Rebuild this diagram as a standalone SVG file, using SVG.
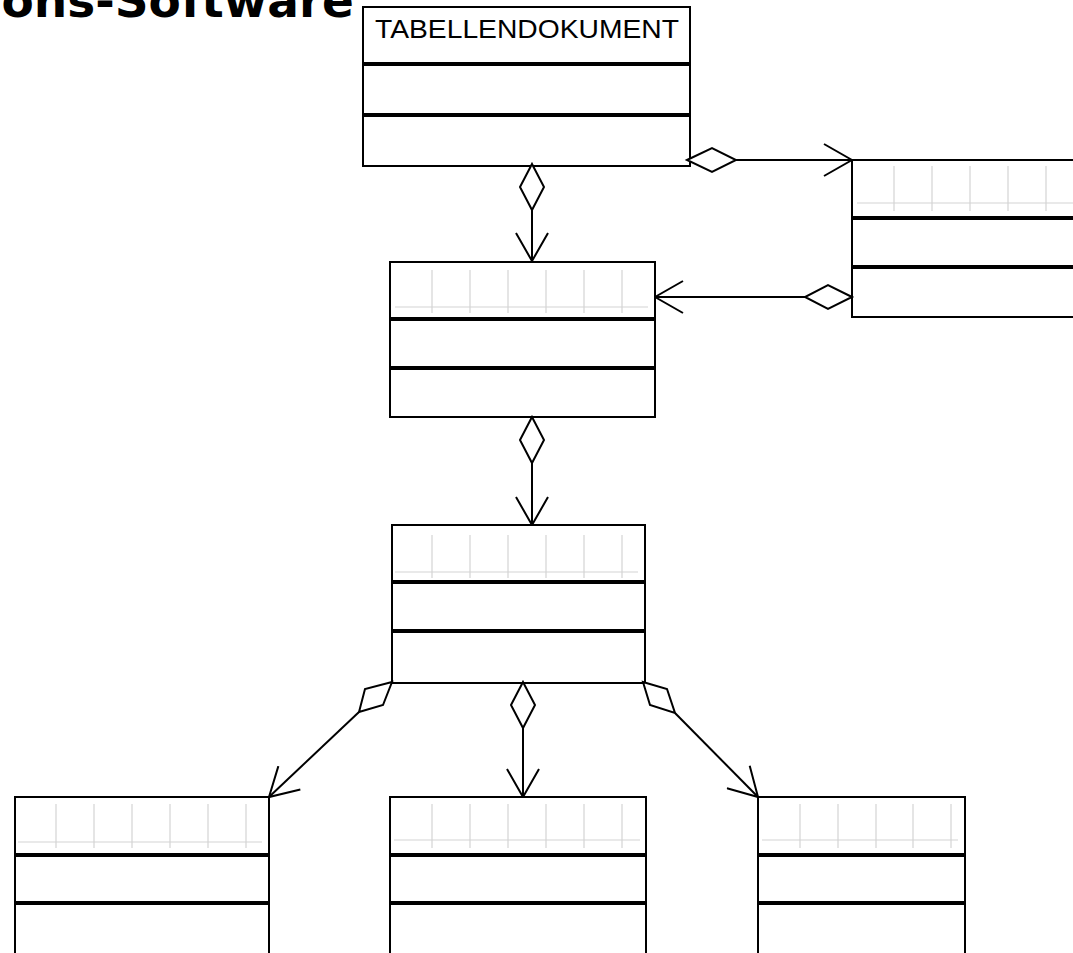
<svg xmlns="http://www.w3.org/2000/svg" width="1073" height="953" viewBox="0 0 1073 953">
<style>
.box{fill:#fff;stroke:#000;stroke-width:2}
.sep{stroke:#000;stroke-width:4}
.grid{stroke:#d4d4d4;stroke-width:1.2;fill:none}
.con{stroke:#000;stroke-width:2;fill:none}
.dia{stroke:#000;stroke-width:2;fill:#fff;stroke-linejoin:miter}
.title{font-family:"DejaVu Sans",Verdana,sans-serif;font-weight:bold;font-size:47px;fill:#000}
.lbl{font-family:"Liberation Sans",Arial,sans-serif;font-size:25px;fill:#000}
</style>
<defs>
<marker id="open" viewBox="0 0 30 34" refX="29" refY="17" markerWidth="30" markerHeight="34" markerUnits="userSpaceOnUse" orient="auto">
<path d="M1,1 L29,17 L1,33" fill="none" stroke="#000" stroke-width="2"/>
</marker>
</defs>
<text class="title" x="354" y="17" text-anchor="end">ons-Software</text>

<g id="tabellendokument">
<rect class="box" x="363" y="7" width="327" height="159"/>
<line class="sep" x1="363" y1="64" x2="690" y2="64"/>
<line class="sep" x1="363" y1="115" x2="690" y2="115"/>
<text class="lbl" x="375" y="38" textLength="304" lengthAdjust="spacingAndGlyphs">TABELLENDOKUMENT</text>
</g>

<g id="node-right">
<rect class="box" x="852" y="160" width="260" height="157"/>
<path class="grid" d="M857,203 H1073 M894,166 V211 M932,166 V211 M970,166 V211 M1008,166 V211 M1046,166 V211"/>
<line class="sep" x1="852" y1="218" x2="1112" y2="218"/>
<line class="sep" x1="852" y1="267" x2="1112" y2="267"/>
</g>

<g id="node-2">
<rect class="box" x="390" y="262" width="265" height="155"/>
<path class="grid" d="M395,307 H648 M432,270 V313 M470,270 V313 M508,270 V313 M546,270 V313 M584,270 V313 M622,270 V313"/>
<line class="sep" x1="390" y1="319" x2="655" y2="319"/>
<line class="sep" x1="390" y1="368" x2="655" y2="368"/>
</g>

<g id="node-3">
<rect class="box" x="392" y="525" width="253" height="158"/>
<path class="grid" d="M395,572 H638 M432,535 V578 M470,535 V578 M508,535 V578 M546,535 V578 M584,535 V578 M622,535 V578"/>
<line class="sep" x1="392" y1="582" x2="645" y2="582"/>
<line class="sep" x1="392" y1="631" x2="645" y2="631"/>
</g>

<g id="node-bl">
<rect class="box" x="15" y="797" width="254" height="170"/>
<path class="grid" d="M18,842 H262 M56,804 V848 M94,804 V848 M132,804 V848 M170,804 V848 M208,804 V848 M246,804 V848"/>
<line class="sep" x1="15" y1="855" x2="269" y2="855"/>
<line class="sep" x1="15" y1="903" x2="269" y2="903"/>
</g>

<g id="node-bm">
<rect class="box" x="390" y="797" width="256" height="170"/>
<path class="grid" d="M394,840 H640 M432,804 V848 M470,804 V848 M508,804 V848 M546,804 V848 M584,804 V848 M622,804 V848"/>
<line class="sep" x1="390" y1="855" x2="646" y2="855"/>
<line class="sep" x1="390" y1="903" x2="646" y2="903"/>
</g>

<g id="node-br">
<rect class="box" x="758" y="797" width="207" height="170"/>
<path class="grid" d="M762,840 H958 M800,804 V848 M838,804 V848 M876,804 V848 M913,804 V848 M951,804 V848"/>
<line class="sep" x1="758" y1="855" x2="965" y2="855"/>
<line class="sep" x1="758" y1="903" x2="965" y2="903"/>
</g>

<g id="connectors">
<line class="con" x1="532" y1="210" x2="532" y2="261" marker-end="url(#open)"/>
<path class="dia" d="M532,164 L544,187 L532,210 L520,187 Z"/>

<line class="con" x1="736" y1="160" x2="852" y2="160" marker-end="url(#open)"/>
<path class="dia" d="M687,160 L712,148 L736,160 L712,172 Z"/>

<line class="con" x1="805" y1="297" x2="655" y2="297" marker-end="url(#open)"/>
<path class="dia" d="M852,297 L828,285 L805,297 L828,309 Z"/>

<line class="con" x1="532" y1="463" x2="532" y2="525" marker-end="url(#open)"/>
<path class="dia" d="M532,417 L544,440 L532,463 L520,440 Z"/>

<line class="con" x1="523" y1="728" x2="523" y2="797" marker-end="url(#open)"/>
<path class="dia" d="M523,682 L535,705 L523,728 L511,705 Z"/>

<line class="con" x1="359" y1="712" x2="269" y2="797" marker-end="url(#open)"/>
<path class="dia" d="M392,682 L365,689 L359,712 L383,705 Z"/>

<line class="con" x1="675" y1="713" x2="758" y2="797" marker-end="url(#open)"/>
<path class="dia" d="M643,682 L667,689 L675,713 L650,705 Z"/>
</g>
</svg>
